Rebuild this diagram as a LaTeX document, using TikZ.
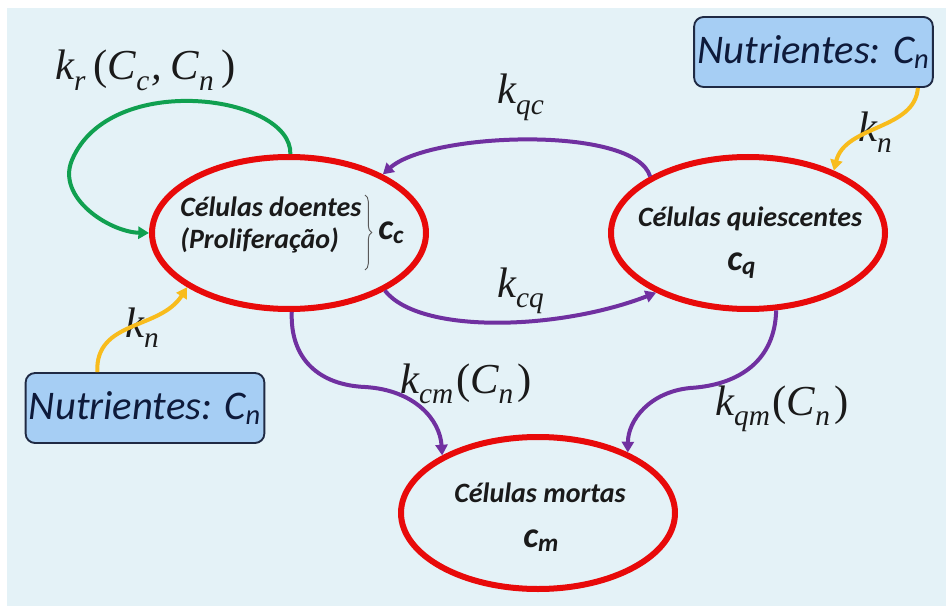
\documentclass[tikz,border=0pt]{standalone}
\usepackage{fontspec}
\setmainfont{Carlito}
\newfontfamily\tnr{Liberation Serif}
\usetikzlibrary{arrows.meta,decorations.pathreplacing,shapes.geometric}
\definecolor{bgc}{HTML}{E4F2F7}
\definecolor{cellred}{HTML}{E80A0A}
\definecolor{purp}{HTML}{7030A0}
\definecolor{grn}{HTML}{10A050}
\definecolor{gold}{HTML}{F8BC1C}
\definecolor{boxfill}{HTML}{A6CEF4}
\definecolor{boxline}{HTML}{1F2A44}
\definecolor{navy}{HTML}{0E1A3A}
\definecolor{txt}{HTML}{1A1A1A}
\newcommand{\sbx}[1]{\raisebox{-8pt}{\fontsize{22}{22}\selectfont\tnr\itshape #1}}
\newcommand{\lp}{{\upshape(}}
\newcommand{\rp}{{\upshape)}}
\tikzset{
  cell/.style={ellipse, draw=cellred, line width=4.5pt, minimum width=205.5pt, minimum height=114pt, inner sep=0pt},
  nutr/.style={draw=boxline, fill=boxfill, line width=1.4pt, rounded corners=7pt, minimum width=179pt, minimum height=52.5pt, inner sep=0pt, text=navy, font=\fontsize{30.5}{30.5}\selectfont\itshape},
  ctext/.style={inner sep=0pt, text=txt, font=\fontsize{21}{21}\selectfont\bfseries\itshape},
  clab/.style={inner sep=0pt, text=txt, anchor=base west, font=\fontsize{27}{27}\selectfont\bfseries\itshape},
  mlab/.style={inner sep=0pt, text=txt, anchor=base west, font=\fontsize{32}{32}\selectfont\tnr\itshape},
  flow/.style={line width=3pt, -{Triangle[length=8pt,width=9pt]}},
  purpleflow/.style={flow, draw=purp},
  greenflow/.style={flow, draw=grn},
  goldflow/.style={flow, draw=gold}
}
\begin{document}
\begin{tikzpicture}[x=0.75pt,y=-0.75pt]
\fill[white] (0,0) rectangle (946,606);
\fill[bgc] (7,8) rectangle (946,606);
\useasboundingbox (0,0) rectangle (946,606);

% cells
\node[cell] (cc) at (289,233) {};
\node[cell] (cq) at (748,233) {};
\node[cell] (cm) at (538,513) {};

% nutrient boxes
\node[nutr] (tr) at (813.5,52) {Nutrientes: C\textsubscript{n}};
\node[nutr] (bl) at (145,408) {Nutrientes: C\textsubscript{n}};

% cell texts
\node[ctext, anchor=base west] (cct1) at (180,217) {Células doentes};
\node[ctext, anchor=base west] (cct2) at (180,248) {(Proliferação)};
\draw[decorate, decoration={brace, amplitude=5pt}, line width=0.7pt, draw=black!65] (365,195) -- (365,270);
\node[clab] (ccl) at (378,239) {c\textsubscript{c}};
\node[ctext, anchor=base] (cqt) at (750,227) {Células quiescentes};
\node[clab] (cql) at (727,270) {c\textsubscript{q}};
\node[ctext, anchor=base] (cmt) at (540,502) {Células mortas};
\node[clab] (cml) at (523,547) {c\textsubscript{m}};

% rate labels
\node[mlab] (kr) at (55,80) {k\sbx{r}\hspace{6pt}\lp C\sbx{c}\hspace{2pt},\hspace{6pt}C\sbx{n}\hspace{6pt}\rp};
\node[mlab] (kqc) at (497,104) {k\sbx{qc}};
\node[mlab] (kcq) at (497,297) {k\sbx{cq}};
\node[mlab] (kn1) at (858,142) {k\sbx{n}};
\node[mlab] (kn2) at (125,337) {k\sbx{n}};
\node[mlab] (kcm) at (400,393) {k\sbx{cm}\hspace{2pt}\lp C\sbx{n}\hspace{3pt}\rp};
\node[mlab] (kqm) at (715,415) {k\sbx{qm}\hspace{2pt}\lp C\sbx{n}\hspace{3pt}\rp};

% connectors
\draw[greenflow] (cc.89) .. controls (292,95) and (110,70) .. (72,160) .. controls (56,198) and (110,232) .. (cc.180);
\draw[purpleflow] (cq.150) .. controls (635,125) and (430,132) .. (cc.32);
\draw[purpleflow] (cc.-31) .. controls (420,335) and (560,330) .. (cq.213);
\draw[purpleflow] (cc.-88) .. controls (290,360) and (320,385) .. (365,387) .. controls (415,390) and (440,420) .. (cm.149.5);
\draw[purpleflow] (cq.-70) .. controls (775,360) and (740,385) .. (690,388) .. controls (650,392) and (628,420) .. (cm.34.6);
\draw[goldflow] (tr.-19.6) .. controls (915,130) and (845,125) .. (cq.36.9);
\draw[goldflow] (bl.143.9) .. controls (95,320) and (160,330) .. (cc.208);
\end{tikzpicture}
\end{document}
